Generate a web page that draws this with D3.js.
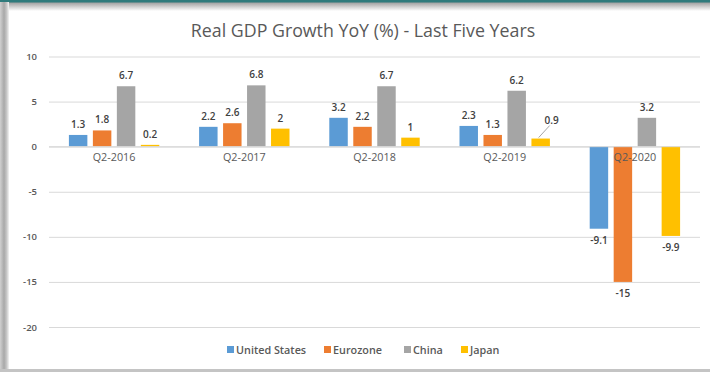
<!DOCTYPE html>
<html>
<head>
<meta charset="utf-8">
<script src="https://cdn.jsdelivr.net/npm/d3@7"></script>
<style>
  html, body { margin: 0; padding: 0; background: #fff; }
  svg { display: block; }
  text { font-family: "Open Sans", "Liberation Sans", sans-serif; }
</style>
</head>
<body>
<svg id="chart" width="710" height="372"></svg>
<script>
// Year-on-year real GDP growth, second quarter of each year
const quarters = ["Q2-2016", "Q2-2017", "Q2-2018", "Q2-2019", "Q2-2020"];
const seriesNames = ["United States", "Eurozone", "China", "Japan"];
const unitedStates = [1.3, 2.2, 3.2, 2.3, -9.1];
const eurozone = [1.8, 2.6, 2.2, 1.3, -15];
const china = [6.7, 6.8, 6.7, 6.2, 3.2];
const japan = [0.2, 2, 1, 0.9, -9.9];
const yTicks = [10, 5, 0, -5, -10, -15, -20];
const colors = ["#5b9bd5", "#ed7d31", "#a5a5a5", "#ffc000"];

const seriesValues = [unitedStates, eurozone, china, japan];
const rows = quarters.map((q, i) => ({
  quarter: q,
  values: seriesNames.map((name, s) => ({ name, s, value: seriesValues[s][i] }))
}));

const svg = d3.select("#chart");
const W = 710, H = 372;

// Window frame: teal strip on top, grey shading along the top, left and bottom edges
const defs = svg.append("defs");
const topGrad = defs.append("linearGradient").attr("id", "topShade").attr("x1", 0).attr("y1", 0).attr("x2", 0).attr("y2", 1);
topGrad.append("stop").attr("offset", 0).attr("stop-color", "#9a9a9a");
topGrad.append("stop").attr("offset", 1).attr("stop-color", "#ffffff");
const leftGrad = defs.append("linearGradient").attr("id", "leftShade").attr("x1", 0).attr("y1", 0).attr("x2", 1).attr("y2", 0);
leftGrad.append("stop").attr("offset", 0).attr("stop-color", "#d0d0d0");
leftGrad.append("stop").attr("offset", 0.45).attr("stop-color", "#a8a8a8");
leftGrad.append("stop").attr("offset", 0.75).attr("stop-color", "#c8c8c8");
leftGrad.append("stop").attr("offset", 1).attr("stop-color", "#f4f4f4");

svg.append("rect").attr("width", W).attr("height", H).attr("fill", "#fff");
svg.append("rect").attr("x", 0).attr("y", 2).attr("width", W).attr("height", 9).attr("fill", "url(#topShade)");
svg.append("rect").attr("x", 0).attr("y", 0).attr("width", W).attr("height", 2.5).attr("fill", "#2f7b7c");
svg.append("rect").attr("x", 0).attr("y", 2).attr("width", 9).attr("height", H - 2).attr("fill", "url(#leftShade)");
svg.append("rect").attr("x", 0).attr("y", H - 3).attr("width", W).attr("height", 3).attr("fill", "#c4c4c4");

// Title
svg.append("text")
  .attr("x", 363).attr("y", 37)
  .attr("text-anchor", "middle")
  .attr("font-size", 17.8)
  .attr("fill", "#595959")
  .text("Real GDP Growth YoY (%) - Last Five Years");

// Scales
const margin = { left: 49, right: 10 };
const x0 = d3.scaleBand().domain(quarters).range([margin.left, W - margin.right]).paddingInner(0).paddingOuter(0);
const x1 = d3.scaleBand().domain(seriesNames).range([0, x0.bandwidth()]).paddingInner(0.23).paddingOuter(0.83);
const y = d3.scaleLinear().domain([-20, 10]).range([327, 56.5]);

// Gridlines
const grid = svg.append("g")
  .attr("transform", `translate(${margin.left},0)`)
  .call(d3.axisLeft(y).tickValues(yTicks).tickSize(-(W - margin.right - margin.left)).tickFormat(""));
grid.select(".domain").remove();
grid.selectAll("line").attr("stroke", "#d9d9d9").attr("stroke-width", 1);

// Y axis labels (plain hyphen for negatives)
const yAxis = svg.append("g")
  .attr("transform", "translate(37,0)")
  .call(d3.axisLeft(y).tickValues(yTicks).tickSize(0).tickPadding(0).tickFormat(d => String(d)));
yAxis.select(".domain").remove();
yAxis.selectAll("text")
  .attr("font-family", "'Open Sans', sans-serif")
  .attr("font-size", 9.5).attr("font-weight", 600).attr("fill", "#595959");

// Bars
const groups = svg.append("g").selectAll("g").data(rows).join("g")
  .attr("transform", d => `translate(${x0(d.quarter)},0)`);

groups.selectAll("rect").data(d => d.values).join("rect")
  .attr("x", d => x1(d.name))
  .attr("width", x1.bandwidth())
  .attr("y", d => y(Math.max(0, d.value)))
  .attr("height", d => Math.abs(y(d.value) - y(0)))
  .attr("fill", d => colors[d.s]);

// Zero line over the bars
svg.append("line")
  .attr("x1", margin.left).attr("x2", W - margin.right)
  .attr("y1", y(0)).attr("y2", y(0))
  .attr("stroke", "#d9d9d9");

// Category labels
const xAxis = svg.append("g")
  .attr("transform", `translate(0,${y(0)})`)
  .call(d3.axisBottom(x0).tickSize(0).tickPadding(7));
xAxis.select(".domain").remove();
xAxis.selectAll("text")
  .attr("font-family", "'Open Sans', sans-serif")
  .attr("font-size", 10.8).attr("fill", "#595959");

// Value labels (the small Japan 2019 bar gets a leader line)
const labelOffset = { "Q2-2019|Japan": { dx: 11, dy: -15 } };
groups.each(function (row) {
  const g = d3.select(this);
  row.values.forEach(d => {
    const cx = x1(d.name) + x1.bandwidth() / 2;
    const off = labelOffset[row.quarter + "|" + d.name];
    let ly = d.value >= 0 ? y(d.value) - 7 : y(d.value) + 15;
    let lx = cx;
    if (off) {
      lx = cx + off.dx;
      ly = y(d.value) + off.dy;
      g.append("line")
        .attr("x1", cx - 2).attr("y1", y(d.value) - 1)
        .attr("x2", lx - 2).attr("y2", ly + 2)
        .attr("stroke", "#a6a6a6").attr("stroke-width", 1);
    }
    g.append("text")
      .attr("x", lx).attr("y", ly)
      .attr("text-anchor", "middle")
      .attr("font-size", 10)
      .attr("font-weight", 600)
      .attr("fill", "#404040")
      .text(String(d.value));
  });
});

// Legend
const legendX = [227, 324, 404, 461];
const legend = svg.append("g").selectAll("g").data(seriesNames).join("g")
  .attr("transform", (d, i) => `translate(${legendX[i]},346)`);
legend.append("rect").attr("width", 7).attr("height", 7).attr("fill", (d, i) => colors[i]);
legend.append("text")
  .attr("x", 9).attr("y", 7.8)
  .attr("font-size", 10.8).attr("font-weight", 600)
  .attr("fill", "#595959")
  .text(d => d);
</script>
</body>
</html>
